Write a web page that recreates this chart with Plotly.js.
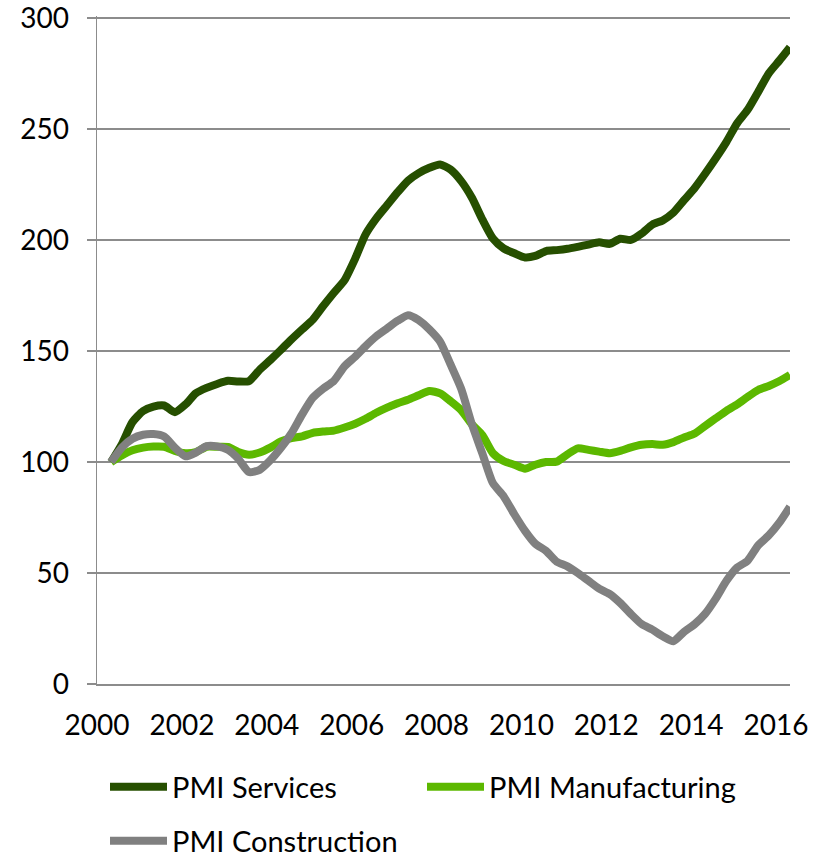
<!DOCTYPE html>
<html>
<head>
<meta charset="utf-8">
<script src="https://cdn.plot.ly/plotly-3.0.1.min.js"></script>
<style>
  html, body { margin: 0; padding: 0; background: #ffffff; }
  #chart { width: 821px; height: 857px; }
</style>
</head>
<body>
<div id="chart"></div>
<script>
// Quarterly observation dates (index base = 100 at first date)
const dates = [
  '2000-05-01','2000-08-01','2000-11-01','2001-02-01','2001-05-01','2001-08-01','2001-11-01',
  '2002-02-01','2002-05-01','2002-08-01','2002-11-01','2003-02-01','2003-05-01','2003-08-01','2003-11-01',
  '2004-02-01','2004-05-01','2004-08-01','2004-11-01','2005-02-01','2005-05-01','2005-08-01','2005-11-01',
  '2006-02-01','2006-05-01','2006-08-01','2006-11-01','2007-02-01','2007-05-01','2007-08-01','2007-11-01',
  '2008-02-01','2008-05-01','2008-08-01','2008-11-01','2009-02-01','2009-05-01','2009-08-01','2009-11-01',
  '2010-02-01','2010-05-01','2010-08-01','2010-11-01','2011-02-01','2011-05-01','2011-08-01','2011-11-01',
  '2012-02-01','2012-05-01','2012-08-01','2012-11-01','2013-02-01','2013-05-01','2013-08-01','2013-11-01',
  '2014-02-01','2014-05-01','2014-08-01','2014-11-01','2015-02-01','2015-05-01','2015-08-01','2015-11-01',
  '2016-02-01','2016-05-01'
];

const pmiServices = [
  100, 108, 118, 123, 125, 125.5, 122.5,
  126, 131, 133.4, 135.2, 136.6, 136.3, 136.5, 141.6,
  146, 150.5, 155.3, 159.8, 164.2, 170.3, 176.3, 182,
  191.8, 202.6, 209.8, 215.7, 221.6, 226.8, 230.2, 232.6,
  234.1, 231.8, 226.6, 219.1, 209.1, 200.7, 196.3, 194.1,
  192.2, 192.9, 195.1, 195.5, 196.1, 197.0, 198, 199,
  198.3, 200.6, 200.1, 203, 207, 208.9, 212.4, 218,
  223.5, 229.9, 236.9, 244.3, 252.7, 258.6, 266.8, 275.2,
  281, 286.9
];

const pmiManufacturing = [
  100, 103, 105.3, 106.5, 107, 106.9, 105,
  104, 104.5, 106.9, 106.9, 106.8, 104.5, 103.3, 104.3,
  106.5, 109.3, 110.8, 111.6, 113.2, 113.8, 114.2, 115.6,
  117.3, 119.5, 122.2, 124.5, 126.5, 128.1, 130.1, 132,
  131, 127.5, 123.4, 117, 112, 104, 100.5, 98.8,
  97, 98.8, 100, 100.2, 103.5, 106.2, 105.5, 104.7,
  104, 105, 106.6, 107.8, 108.1, 107.8, 109, 111.1,
  112.9, 116.3, 119.7, 123.1, 126, 129.3, 132.5, 134.3,
  136.5, 139.3
];

const pmiConstruction = [
  100, 106.5, 110.5, 112.3, 112.6, 111.5, 106.5,
  102.6, 104.3, 107.2, 107.1, 105.5, 101.5, 95.5, 96.5,
  100.8, 106.3, 113, 121.5, 129, 133.1, 136.6, 143.2,
  147.5, 152.3, 156.7, 160.2, 163.7, 166.2, 164, 159.8,
  154.3, 144, 133, 117, 103.6, 90.5, 84.6, 76.5,
  69, 63.2, 60, 55.1, 53, 50, 46.5, 43,
  40.5, 36.5, 31.5, 27, 24.5, 21.5, 19.3, 23.5,
  27, 31.6, 38.5, 46.5, 52.5, 55.5, 62.5, 67,
  72.8, 79.9
];

const xTickVals = ['2000-01-01','2002-01-01','2004-01-01','2006-01-01','2008-01-01',
                   '2010-01-01','2012-01-01','2014-01-01','2016-01-01'];
const xTickText = ['2000','2002','2004','2006','2008','2010','2012','2014','2016'];
const yTickVals = [0, 50, 100, 150, 200, 250, 300];

const seriesNames = ['PMI Services', 'PMI Manufacturing', 'PMI Construction'];
const seriesColors = ['#264f00', '#5cb800', '#808080'];

const FONT = 'Lato, "Open Sans", "Liberation Sans", sans-serif';
const GRID = '#8c8c8c';

const traces = [
  { x: dates, y: pmiServices, name: seriesNames[0], legend: 'legend',
    type: 'scatter', mode: 'lines', line: { color: seriesColors[0], width: 8, shape: 'spline', smoothing: 0.6 } },
  { x: dates, y: pmiManufacturing, name: seriesNames[1], legend: 'legend',
    type: 'scatter', mode: 'lines', line: { color: seriesColors[1], width: 8, shape: 'spline', smoothing: 0.6 } },
  { x: dates, y: pmiConstruction, name: seriesNames[2], legend: 'legend2',
    type: 'scatter', mode: 'lines', line: { color: seriesColors[2], width: 8, shape: 'spline', smoothing: 0.6 } }
];

const layout = {
  width: 821,
  height: 857,
  margin: { l: 97, r: 31, t: 16, b: 173, pad: 0 },
  paper_bgcolor: '#ffffff',
  plot_bgcolor: '#ffffff',
  font: { family: FONT, size: 28, color: '#000000' },
  showlegend: true,
  hovermode: false,
  xaxis: {
    type: 'date',
    range: ['2000-01-01', '2016-05-01'],
    tickmode: 'array',
    tickvals: xTickVals,
    ticktext: xTickText,
    showgrid: false,
    zeroline: false,
    showline: true,
    linecolor: GRID,
    linewidth: 1.5,
    ticks: '',
    ticklabelstandoff: 16,
    ticklabeloverflow: 'allow',
    tickfont: { family: FONT, size: 28, color: '#000000' }
  },
  yaxis: {
    range: [0, 301],
    tickmode: 'array',
    tickvals: yTickVals,
    showgrid: true,
    gridcolor: GRID,
    gridwidth: 1.5,
    zeroline: false,
    showline: true,
    linecolor: GRID,
    linewidth: 1.5,
    ticks: 'outside',
    ticklen: 9,
    tickcolor: GRID,
    tickwidth: 1.5,
    ticklabelstandoff: 12,
    ticklabeloverflow: 'allow',
    tickfont: { family: FONT, size: 28, color: '#000000' }
  },
  legend: {
    orientation: 'h',
    xref: 'container', yref: 'container',
    x: 105 / 821, y: 70 / 857,
    xanchor: 'left', yanchor: 'middle',
    entrywidth: 245,
    itemwidth: 57,
    font: { family: FONT, size: 29, color: '#000000' },
    bgcolor: 'rgba(0,0,0,0)'
  },
  legend2: {
    orientation: 'h',
    xref: 'container', yref: 'container',
    x: 105 / 821, y: 16 / 857,
    xanchor: 'left', yanchor: 'middle',
    itemwidth: 57,
    font: { family: FONT, size: 29, color: '#000000' },
    bgcolor: 'rgba(0,0,0,0)'
  }
};

Plotly.newPlot('chart', traces, layout, { displayModeBar: false, staticPlot: true });
</script>
</body>
</html>
